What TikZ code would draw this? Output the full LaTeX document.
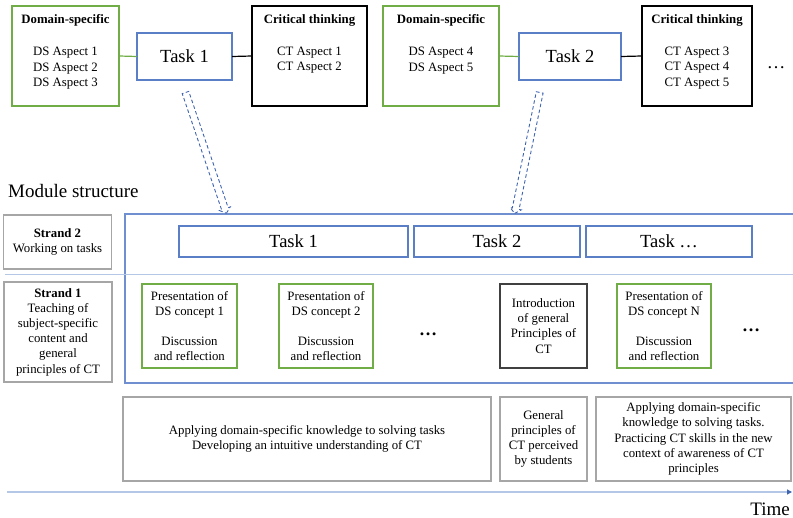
\documentclass[tikz,border=0pt]{standalone}
\usepackage{fontspec}
\setmainfont{Liberation Serif}
\usetikzlibrary{shapes.arrows,arrows.meta,calc}
\definecolor{dsgreen}{HTML}{70AD47}
\definecolor{taskblue}{HTML}{5A7FC6}
\definecolor{frameblue}{HTML}{6F8FD0}
\definecolor{paleblue}{HTML}{B4C7E7}
\definecolor{boxgray}{HTML}{A6A6A6}
\definecolor{introgray}{HTML}{404040}
\definecolor{arrowblue}{HTML}{3F64B0}
\begin{document}
\begin{tikzpicture}[x=1pt,y=-1pt,
  small/.style={font=\fontsize{12.8}{15.2}\selectfont, align=center, inner sep=0pt},
  big/.style={font=\fontsize{18.5}{22}\selectfont, inner sep=0pt},
  frameit/.style={draw, rectangle, inner sep=0pt, outer sep=0pt},
  dsbox/.style={frameit, draw=dsgreen, line width=1.3pt},
  ctbox/.style={frameit, draw=black, line width=1.3pt},
  taskbox/.style={frameit, draw=taskblue, line width=1.1pt, big},
  graybox/.style={frameit, draw=boxgray, line width=1.1pt, small},
  introbox/.style={frameit, draw=introgray, line width=1.2pt, small},
  conbox/.style={dsbox, small},
  bigdots/.style={font=\fontsize{18}{20}\selectfont\bfseries, inner sep=0pt},
  dasharrow/.style={single arrow, draw=arrowblue, dashed, dash pattern=on 3.5pt off 2.5pt,
    line width=0.9pt, inner sep=3pt, outer sep=0pt, single arrow head extend=2.2pt,
    single arrow tip angle=100, sloped, allow upside down}
]
\useasboundingbox (0,0) rectangle (793,518);

% ---- top row: aspects linked to tasks ----
\node[dsbox, minimum width=107pt, minimum height=100pt] (ds1) at (65.5,56) {};
\node[taskbox, minimum width=95pt, minimum height=47pt] (t1) at (184.5,56.5) {Task 1};
\node[ctbox, minimum width=115pt, minimum height=100pt] (ct1) at (309.5,56) {};
\node[dsbox, minimum width=116pt, minimum height=100pt] (ds2) at (441,56) {};
\node[taskbox, minimum width=102pt, minimum height=47pt] (t2) at (570,56.5) {Task 2};
\node[ctbox, minimum width=110pt, minimum height=100pt] (ct2) at (697,56) {};
\node[big] (topdots) at (776,68) {\dots};

\node[small, anchor=north] at ([yshift=-8pt]ds1.north)
  {\textbf{Domain-specific}\\[17.5pt] DS Aspect 1\\ DS Aspect 2\\ DS Aspect 3};
\node[small, anchor=north] at ([yshift=-8pt]ct1.north)
  {\textbf{Critical thinking}\\[17.5pt] CT Aspect 1\\ CT Aspect 2};
\node[small, anchor=north] at ([yshift=-8pt]ds2.north)
  {\textbf{Domain-specific}\\[17.5pt] DS Aspect 4\\ DS Aspect 5};
\node[small, anchor=north] at ([yshift=-8pt]ct2.north)
  {\textbf{Critical thinking}\\[17.5pt] CT Aspect 3\\ CT Aspect 4\\ CT Aspect 5};

\draw[dsgreen, line width=1.2pt] (ds1.east) -- (t1.west);
\draw[black, line width=1.2pt] (t1.east) -- (ct1.west);
\draw[dsgreen, line width=1.2pt] (ds2.east) -- (t2.west);
\draw[black, line width=1.2pt] (t2.east) -- (ct2.west);

% ---- module structure ----
\node[font=\fontsize{19}{22}\selectfont, anchor=base west, inner sep=0pt] (title) at (8,198) {Module structure};

\node[frameit, draw=frameblue, line width=1.3pt, minimum width=705pt, minimum height=169pt] (frame) at (477.5,298.5) {};

\coordinate (a1s) at (185,91);
\coordinate (a1e) at (226,212);
\coordinate (a2s) at (540,91);
\coordinate (a2e) at (515,212);
\path (a1s) -- (a1e) node[dasharrow, midway, minimum height=127.5pt] {};
\path (a2s) -- (a2e) node[dasharrow, midway, minimum height=123.5pt] {};

\node[graybox, minimum width=108pt, minimum height=54pt] (s2) at (57.5,242)
  {\textbf{Strand 2}\\ Working on tasks};
\node[graybox, minimum width=108pt, minimum height=100pt] (s1) at (58,332)
  {\textbf{Strand 1}\\ Teaching of\\ subject-specific\\ content and\\ general\\ principles of CT};

\coordinate (divL) at (5,275);
\coordinate (divR) at (800,275);
\draw[paleblue, line width=1pt] (divL) -- (divR);

\node[taskbox, minimum width=229pt, minimum height=31pt] (k1) at (293.5,241.5) {Task 1};
\node[taskbox, minimum width=166pt, minimum height=31pt] (k2) at (497,241.5) {Task 2};
\node[taskbox, minimum width=166pt, minimum height=31pt] (k3) at (669,241.5) {Task \dots};

\node[conbox, minimum width=95pt, minimum height=84pt] (p1) at (189.5,326)
  {Presentation of\\ DS concept 1\\[15pt] Discussion\\ and reflection};
\node[conbox, minimum width=94pt, minimum height=84pt] (p2) at (326,326)
  {Presentation of\\ DS concept 2\\[15pt] Discussion\\ and reflection};
\node[bigdots] (d1) at (428,334) {\dots};
\node[introbox, minimum width=87pt, minimum height=84pt] (intro) at (543.5,326)
  {Introduction\\ of general\\ Principles of\\ CT};
\node[conbox, minimum width=94pt, minimum height=84pt] (pN) at (664,326)
  {Presentation of\\ DS concept N\\[15pt] Discussion\\ and reflection};
\node[bigdots] (d2) at (751,330) {\dots};

% ---- outcomes ----
\node[graybox, minimum width=368pt, minimum height=84pt] (b1) at (307,439)
  {Applying domain-specific knowledge to solving tasks\\ Developing an intuitive understanding of CT};
\node[graybox, minimum width=87pt, minimum height=84pt] (b2) at (543.5,439)
  {General\\ principles of\\ CT perceived\\ by students};
\node[graybox, minimum width=195pt, minimum height=84pt] (b3) at (693.5,439)
  {Applying domain-specific\\ knowledge to solving tasks.\\ Practicing CT skills in the new\\ context of awareness of CT\\ principles};

% ---- time axis ----
\coordinate (tl0) at (7,492);
\coordinate (tl1) at (792,492);
\draw[paleblue, line width=1.2pt, -{Triangle[length=5pt,width=5pt,color=arrowblue]}] (tl0) -- (tl1);
\node[font=\fontsize{19}{22}\selectfont, anchor=base east, inner sep=0pt] (time) at (790,515) {Time};
\end{tikzpicture}
\end{document}
